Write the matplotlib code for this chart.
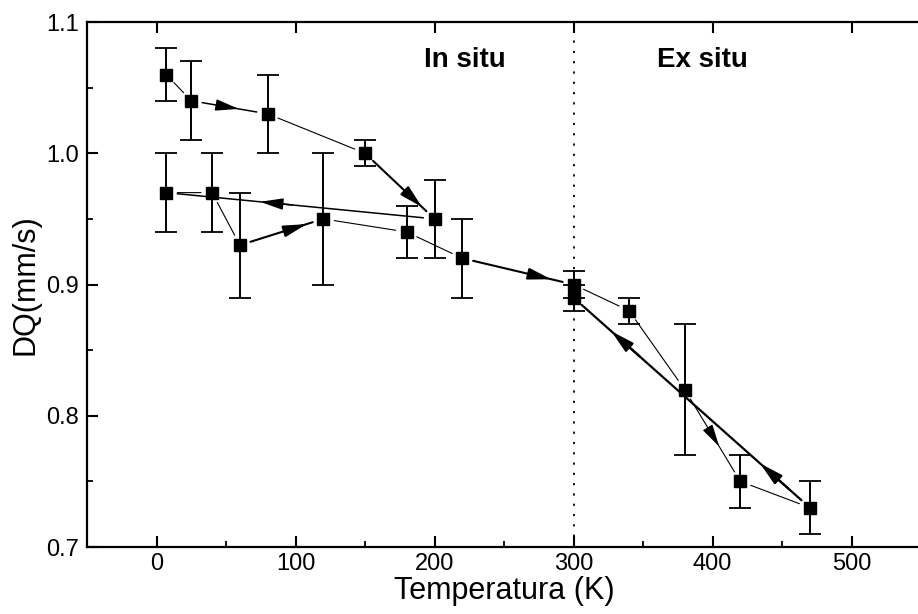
import matplotlib
matplotlib.use("Agg")
import matplotlib.pyplot as plt
from matplotlib.ticker import MultipleLocator

plt.rcParams['font.family'] = ['Liberation Sans', 'DejaVu Sans']

# In situ, first run (heating from 7 K to 200 K)
temp_a = [7, 25, 80, 150, 200]
dq_a = [1.06, 1.04, 1.03, 1.00, 0.95]
err_a = [0.02, 0.03, 0.03, 0.01, 0.03]

# In situ, second run (after cooling back to 7 K, heating to 300 K)
temp_b = [7, 40, 60, 120, 180, 220, 300]
dq_b = [0.97, 0.97, 0.93, 0.95, 0.94, 0.92, 0.90]
err_b = [0.03, 0.03, 0.04, 0.05, 0.02, 0.03, 0.01]

# Ex situ (heating to 470 K and return to 300 K)
temp_c = [340, 380, 420, 470, 300]
dq_c = [0.88, 0.82, 0.75, 0.73, 0.89]
err_c = [0.01, 0.05, 0.02, 0.02, 0.01]

xticks = [0, 100, 200, 300, 400, 500]
yticks = [0.7, 0.8, 0.9, 1.0, 1.1]

# measurement order
path_t = temp_a + temp_b + temp_c
path_dq = dq_a + dq_b + dq_c

# segment styles: index of segment -> (linewidth, arrow fractions)
seg_lw = {1: 1.1, 3: 1.5, 4: 1.1, 7: 1.5, 10: 1.5, 13: 0.8, 15: 1.6}
seg_arrows = {1: [0.62], 3: [0.82], 4: [0.65], 7: [0.8], 10: [0.8], 13: [0.62], 15: [0.21, 0.84]}

fig = plt.figure(figsize=(9.18, 6.14), dpi=100)
ax = fig.add_axes([87 / 918, 67 / 614, (921 - 87) / 918, 525 / 614])

ax.set_xlim(-50, 550)
ax.set_ylim(0.7, 1.1)

# dotted separator between in situ and ex situ
ax.axvline(300, color='black', lw=1.3, linestyle=(0, (1.2, 4.5)), zorder=1)

# connecting lines (with small gaps near markers)
for i in range(len(path_t) - 1):
    p = (path_t[i], path_dq[i])
    q = (path_t[i + 1], path_dq[i + 1])
    lw = seg_lw.get(i, 0.8)
    ax.annotate('', xy=q, xytext=p,
                arrowprops=dict(arrowstyle='-', lw=lw, color='black',
                                shrinkA=8, shrinkB=8), zorder=2)
    for f in seg_arrows.get(i, []):
        tip = (p[0] + f * (q[0] - p[0]), p[1] + f * (q[1] - p[1]))
        tail = (p[0] + (f - 0.12) * (q[0] - p[0]), p[1] + (f - 0.12) * (q[1] - p[1]))
        ax.annotate('', xy=tip, xytext=tail,
                    arrowprops=dict(arrowstyle='-|>,head_length=1.0,head_width=0.25',
                                    lw=lw, color='black', mutation_scale=14,
                                    shrinkA=0, shrinkB=0), zorder=3)

# data points with error bars
for t, d, e in [(temp_a, dq_a, err_a), (temp_b, dq_b, err_b), (temp_c, dq_c, err_c)]:
    ax.errorbar(t, d, yerr=e, fmt='s', color='black', ms=8, mec='black',
                ecolor='black', elinewidth=1.4, capsize=8, capthick=1.3,
                linestyle='none', zorder=4)

ax.text(222, 1.071, 'In situ', fontsize=20, fontweight='bold',
        ha='center', va='center')
ax.text(393, 1.071, 'Ex situ', fontsize=20, fontweight='bold',
        ha='center', va='center')

ax.set_xticks(xticks)
ax.set_yticks(yticks)
ax.set_yticklabels([f'{v:.1f}' for v in yticks])
ax.xaxis.set_minor_locator(MultipleLocator(50))
ax.yaxis.set_minor_locator(MultipleLocator(0.05))

ax.tick_params(which='major', direction='in', length=8, width=1.5, labelsize=17,
               top=True, right=False, pad=4)
ax.tick_params(axis='x', which='minor', direction='in', length=4, width=1.3,
               top=False, bottom=True)
ax.tick_params(axis='y', which='minor', direction='in', length=4, width=1.3,
               left=True, right=False)
ax.tick_params(axis='y', which='major', pad=6)
for s in ax.spines.values():
    s.set_linewidth(1.6)

ax.set_xlabel('Temperatura (K)', fontsize=22, labelpad=1)
ax.set_ylabel('DQ(mm/s)', fontsize=22, labelpad=4)

fig.savefig('out.png', dpi=100)
